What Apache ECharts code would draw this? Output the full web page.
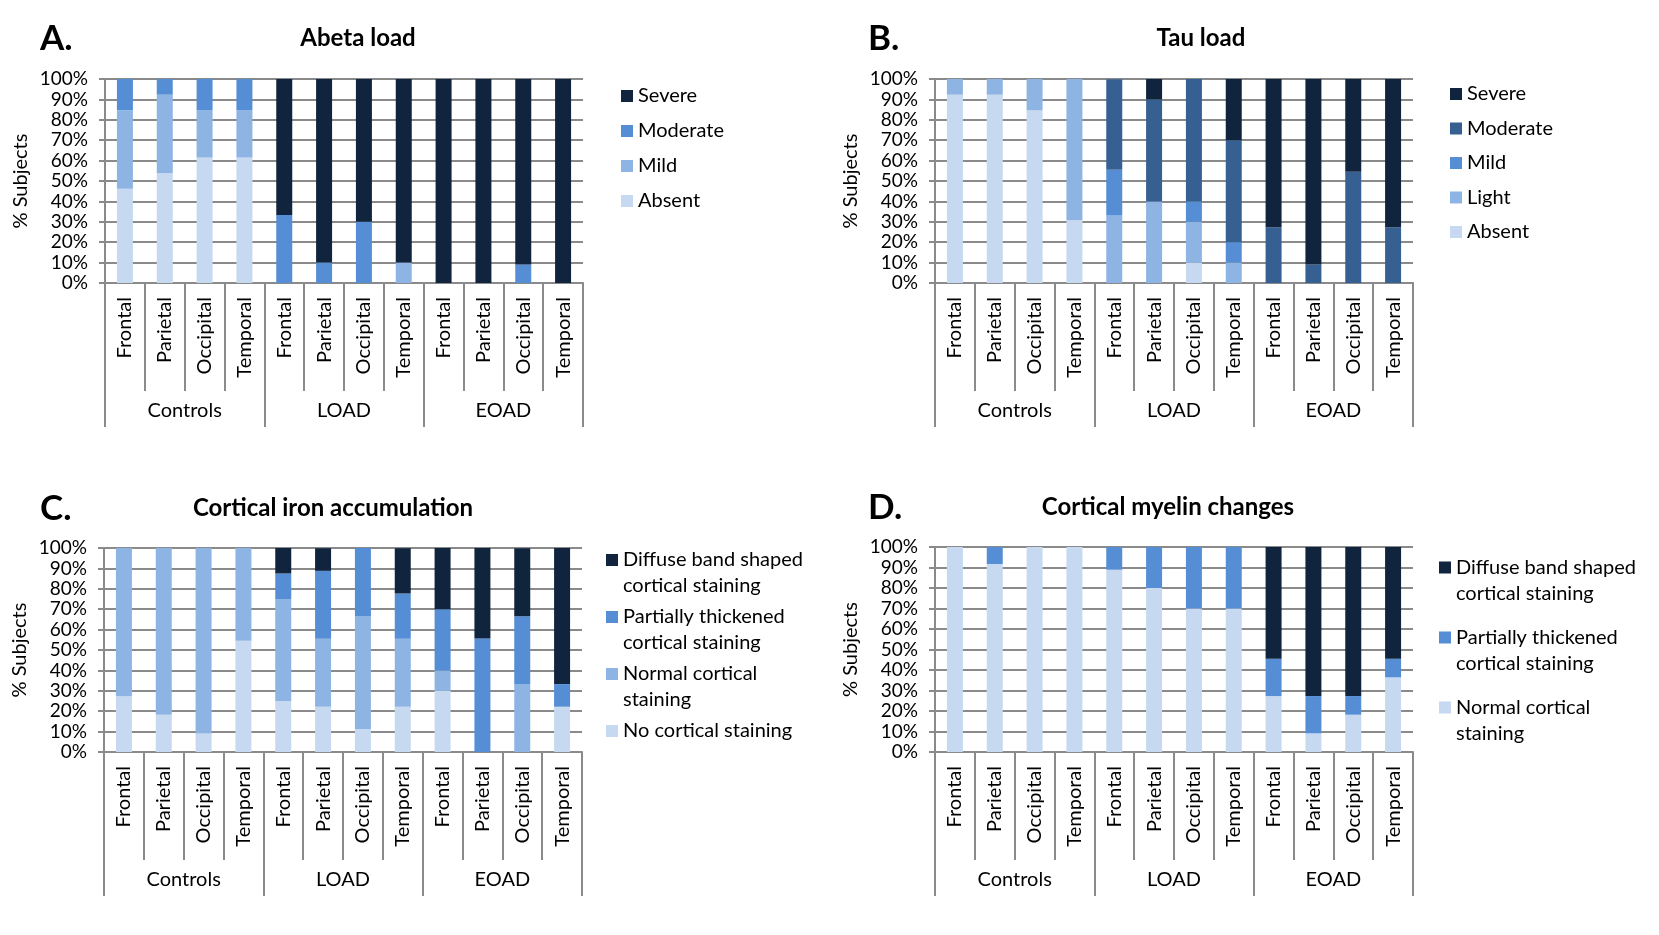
<!DOCTYPE html>
<html><head><meta charset="utf-8">
<script src="https://cdn.jsdelivr.net/npm/echarts@6/dist/echarts.min.js"></script>
<style>html,body{margin:0;padding:0;background:#fff}#c{width:1659px;height:935px}</style>
</head><body><div id="c"></div>
<script>
// ---------- data ----------
const regions = ['Frontal', 'Parietal', 'Occipital', 'Temporal'];
const groups = ['Controls', 'LOAD', 'EOAD'];
const yTicks = [0, 10, 20, 30, 40, 50, 60, 70, 80, 90, 100];

// A. Abeta load (% subjects)
const abetaAbsent   = [46.2, 53.8, 61.5, 61.5, 0, 0, 0, 0, 0, 0, 0, 0];
const abetaMild     = [38.5, 38.5, 23.1, 23.1, 0, 0, 0, 10, 0, 0, 0, 0];
const abetaModerate = [15.4, 7.7, 15.4, 15.4, 33.3, 10, 30, 0, 0, 0, 9.1, 0];
const abetaSevere   = [0, 0, 0, 0, 66.7, 90, 70, 90, 100, 100, 90.9, 100];

// B. Tau load
const tauAbsent   = [92.3, 92.3, 84.6, 30.8, 0, 0, 10, 0, 0, 0, 0, 0];
const tauLight    = [7.7, 7.7, 15.4, 69.2, 33.3, 40, 20, 10, 0, 0, 0, 0];
const tauMild     = [0, 0, 0, 0, 22.2, 0, 10, 10, 0, 0, 0, 0];
const tauModerate = [0, 0, 0, 0, 44.4, 50, 60, 50, 27.3, 9.1, 54.5, 27.3];
const tauSevere   = [0, 0, 0, 0, 0, 10, 0, 30, 72.7, 90.9, 45.5, 72.7];

// C. Cortical iron accumulation
const ironNone    = [27.3, 18.2, 9.1, 54.5, 25, 22.2, 11.1, 22.2, 30, 0, 0, 22.2];
const ironNormal  = [72.7, 81.8, 90.9, 45.5, 50, 33.3, 55.6, 33.3, 10, 0, 33.3, 0];
const ironPartial = [0, 0, 0, 0, 12.5, 33.3, 33.3, 22.2, 30, 55.6, 33.3, 11.1];
const ironDiffuse = [0, 0, 0, 0, 12.5, 11.1, 0, 22.2, 30, 44.4, 33.3, 66.7];

// D. Cortical myelin changes
const myelinNormal  = [100, 91.7, 100, 100, 88.9, 80, 70, 70, 27.3, 9.1, 18.2, 36.4];
const myelinPartial = [0, 8.3, 0, 0, 11.1, 20, 30, 30, 18.2, 18.2, 9.1, 9.1];
const myelinDiffuse = [0, 0, 0, 0, 0, 0, 0, 0, 54.5, 72.7, 72.7, 54.5];

// ---------- styling ----------
const FONT = 'Lato';
const GRAY = '#8a8a8a';
const C_DARK = '#10243e', C_MED = '#376092', C_BLUE = '#558ed5', C_LIGHT = '#8eb4e3', C_PALE = '#c6d9f1';

const categories = groups.flatMap(() => regions);

const panels = [
  { letter: 'A.', title: 'Abeta load', grid: { left: 105, top: 79, width: 478, height: 204 },
    letterPos: [40, 21], titleX: 358, titleY: 26,
    series: [['Absent', abetaAbsent, C_PALE], ['Mild', abetaMild, C_LIGHT], ['Moderate', abetaModerate, C_BLUE], ['Severe', abetaSevere, C_DARK]] },
  { letter: 'B.', title: 'Tau load', grid: { left: 935, top: 79, width: 478, height: 204 },
    letterPos: [868, 21], titleX: 1201, titleY: 26,
    series: [['Absent', tauAbsent, C_PALE], ['Light', tauLight, C_LIGHT], ['Mild', tauMild, C_BLUE], ['Moderate', tauModerate, C_MED], ['Severe', tauSevere, C_DARK]] },
  { letter: 'C.', title: 'Cortical iron accumulation', grid: { left: 104, top: 548, width: 478, height: 204 },
    letterPos: [40, 491], titleX: 333, titleY: 496,
    series: [['No cortical staining', ironNone, C_PALE], ['Normal cortical staining', ironNormal, C_LIGHT], ['Partially thickened cortical staining', ironPartial, C_BLUE], ['Diffuse band shaped cortical staining', ironDiffuse, C_DARK]] },
  { letter: 'D.', title: 'Cortical myelin changes', grid: { left: 935, top: 547, width: 478, height: 205 },
    letterPos: [868, 490], titleX: 1168, titleY: 495,
    series: [['Normal cortical staining', myelinNormal, C_PALE], ['Partially thickened cortical staining', myelinPartial, C_BLUE], ['Diffuse band shaped cortical staining', myelinDiffuse, C_DARK]] }
];

const wrapText = {
  'Diffuse band shaped cortical staining': 'Diffuse band shaped\ncortical staining',
  'Partially thickened cortical staining': 'Partially thickened\ncortical staining',
  'Normal cortical staining': 'Normal cortical\nstaining'
};
// square at top of a 12x38 box (aligned with the first of two text lines)
const ICON_TOP = 'path://M0,0H12V12H0ZM0,37.9H0.1V38H0Z';

const legendPos = [
  { left: 621, top: 85, itemGap: 13, lineHeight: 22, wrap: false },
  { left: 1450, top: 83, itemGap: 12.5, lineHeight: 22, wrap: false },
  { left: 606, top: 547, itemGap: 5, lineHeight: 26, wrap: true },
  { left: 1439, top: 554, itemGap: 17, lineHeight: 26.5, wrap: true }
];

const option = { animation: false, backgroundColor: '#fff', title: [], grid: [], xAxis: [], yAxis: [], series: [], legend: [] };

panels.forEach((p, i) => {
  option.title.push({ text: p.letter, left: p.letterPos[0], top: p.letterPos[1], padding: 0,
    textStyle: { fontFamily: FONT, fontSize: 35, fontWeight: 'bold', color: '#000' } });
  option.title.push({ text: p.title, left: p.titleX, top: p.titleY, textAlign: 'center', padding: 0,
    textStyle: { fontFamily: FONT, fontSize: 24, fontWeight: 'bold', color: '#000' } });
  option.grid.push(Object.assign({ containLabel: false }, p.grid));
  option.xAxis.push({
    gridIndex: i, type: 'category', data: categories, position: 'bottom',
    axisLine: { show: true, lineStyle: { color: GRAY, width: 2 } },
    axisTick: { show: true, length: 108, interval: 0, lineStyle: { color: GRAY, width: 2 } },
    axisLabel: { interval: 0, rotate: 90, margin: 14, fontFamily: FONT, fontSize: 20, color: '#000' },
    splitLine: { show: false }
  });
  option.xAxis.push({
    gridIndex: i, type: 'category', data: groups, position: 'bottom',
    axisLine: { show: false },
    axisTick: { show: true, length: 144, interval: 0, lineStyle: { color: GRAY, width: 2 } },
    axisLabel: { interval: 0, margin: 118, fontFamily: FONT, fontSize: 20, color: '#000' },
    splitLine: { show: false }
  });
  option.yAxis.push({
    gridIndex: i, type: 'value', min: yTicks[0], max: yTicks[yTicks.length - 1], interval: 10,
    axisLine: { show: true, lineStyle: { color: GRAY, width: 2 } },
    axisTick: { show: true, length: 6, lineStyle: { color: GRAY, width: 2 } },
    axisLabel: { formatter: '{value}%', margin: 17, fontFamily: FONT, fontSize: 19, color: '#000' },
    splitLine: { show: true, lineStyle: { color: GRAY, width: 2 } },
    name: '% Subjects', nameLocation: 'middle', nameRotate: 90, nameGap: 74,
    nameTextStyle: { fontFamily: FONT, fontSize: 20, color: '#000' }
  });
  p.series.forEach(([name, values, color]) => {
    option.series.push({
      type: 'bar', name: name, xAxisIndex: i * 2, yAxisIndex: i, stack: 'panel' + i,
      barWidth: 16, data: values, itemStyle: { color: color }, emphasis: { disabled: true }
    });
  });
  const lp = legendPos[i];
  const ordered = p.series.slice().reverse();
  const textStyle = { fontFamily: FONT, fontSize: 20, color: '#000', lineHeight: lp.lineHeight };
  if (!lp.wrap) {
    option.legend.push({
      orient: 'vertical', left: lp.left, top: lp.top, padding: 0, itemGap: lp.itemGap,
      itemWidth: 12, itemHeight: 12, selectedMode: false, icon: 'rect',
      data: ordered.map(([name, , color]) => ({ name: name, itemStyle: { color: color } })),
      textStyle: textStyle
    });
  } else {
    const twoLine = ordered.filter(([name]) => wrapText[name]);
    const oneLine = ordered.filter(([name]) => !wrapText[name]);
    option.legend.push({
      orient: 'vertical', left: lp.left, top: lp.top, padding: 0, itemGap: lp.itemGap,
      itemWidth: 12, itemHeight: 38, selectedMode: false, icon: ICON_TOP,
      data: twoLine.map(([name, , color]) => ({ name: name, itemStyle: { color: color } })),
      formatter: (n) => wrapText[n] || n,
      textStyle: textStyle
    });
    if (oneLine.length) {
      option.legend.push({
        orient: 'vertical', left: lp.left,
        top: lp.top + twoLine.length * (2 * lp.lineHeight + lp.itemGap),
        padding: 0, itemGap: lp.itemGap,
        itemWidth: 12, itemHeight: 12, selectedMode: false, icon: 'rect',
        data: oneLine.map(([name, , color]) => ({ name: name, itemStyle: { color: color } })),
        textStyle: textStyle
      });
    }
  }
});

const chart = echarts.init(document.getElementById('c'));
chart.setOption(option);
</script>
</body></html>
